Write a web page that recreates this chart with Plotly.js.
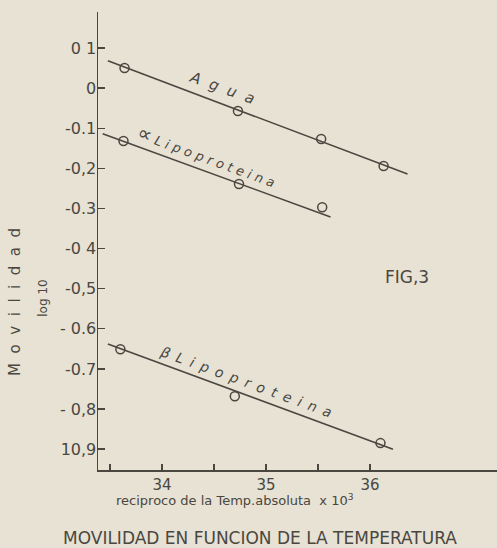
<!DOCTYPE html>
<html>
<head>
<meta charset="utf-8">
<script src="https://cdn.plot.ly/plotly-3.0.1.min.js"></script>
<style>html,body{margin:0;padding:0;background:#e7e2d4;}#chart{width:497px;height:548px;}</style>
</head>
<body>
<div id="chart"></div>
<script>
// Measured points (reciprocal of absolute temperature x 10^3, log10 mobility)
const aguaX = [33.64, 34.73, 35.53, 36.13];
const aguaY = [0.05, -0.057, -0.127, -0.194];
const alfaX = [33.63, 34.74, 35.54];
const alfaY = [-0.132, -0.239, -0.297];
const betaX = [33.60, 34.70, 36.10];
const betaY = [-0.651, -0.768, -0.885];
// Fitted straight lines (endpoints as drawn)
const aguaLineX = [33.48, 36.36];
const aguaLineY = [0.068, -0.214];
const alfaLineX = [33.43, 35.62];
const alfaLineY = [-0.114, -0.321];
const betaLineX = [33.48, 36.22];
const betaLineY = [-0.638, -0.900];
// Axis ticks
const xTickVals = [33.5, 34, 34.5, 35, 35.5, 36];
const xTickText = ["", "34", "", "35", "", "36"];
const yTickVals = [0.1, 0, -0.1, -0.2, -0.3, -0.4, -0.5, -0.6, -0.7, -0.8, -0.9];
const yTickText = ["0 1", "0", "-0.1", "-0,2", "-0.3", "-0 4", "-0,5", "- 0.6", "-0.7", "- 0,8", "10,9"];

const ink = "#4a4741";
const fnt = "DejaVu Sans, sans-serif";
const es = "\u2002";

function lineTrace(x, y) {
  return {x: x, y: y, mode: "lines", type: "scatter", line: {color: ink, width: 1.6}, hoverinfo: "skip", showlegend: false};
}
function markTrace(x, y) {
  return {x: x, y: y, mode: "markers", type: "scatter",
    marker: {symbol: "circle-open", size: 9, color: ink, line: {color: ink, width: 1.5}}, showlegend: false};
}

const data = [
  lineTrace(aguaLineX, aguaLineY), markTrace(aguaX, aguaY),
  lineTrace(alfaLineX, alfaLineY), markTrace(alfaX, alfaY),
  lineTrace(betaLineX, betaLineY), markTrace(betaX, betaY)
];

function ann(o) {
  return Object.assign({showarrow: false, xanchor: "center", yanchor: "middle"}, o);
}

const layout = {
  width: 497, height: 548,
  margin: {l: 98, r: 0, t: 12, b: 78, pad: 0},
  paper_bgcolor: "#e7e2d4",
  plot_bgcolor: "#e7e2d4",
  font: {family: fnt, color: ink, size: 14},
  showlegend: false,
  xaxis: {
    range: [33.385, 37.22], showgrid: false, zeroline: false,
    showline: true, linecolor: ink, linewidth: 1.5,
    ticks: "inside", ticklen: 6, tickwidth: 1.3, tickcolor: ink,
    tickmode: "array", tickvals: xTickVals, ticktext: xTickText,
    tickfont: {family: fnt, size: 15, color: ink}
  },
  yaxis: {
    range: [-0.952, 0.1898], showgrid: false, zeroline: false,
    showline: true, linecolor: ink, linewidth: 1.5,
    ticks: "inside", ticklen: 7, tickwidth: 1.3, tickcolor: ink,
    ticklabelstandoff: -3,
    tickmode: "array", tickvals: yTickVals, ticktext: yTickText,
    tickfont: {family: fnt, size: 16, color: ink}
  },
  annotations: [
    ann({x: 34.58, y: 0.0, xref: "x", yref: "y", text: "A  g  u  a", textangle: 20,
     font: {family: fnt, size: 15, color: ink, style: "italic"}}),
    ann({x: 34.43, y: -0.17, xref: "x", yref: "y",
     text: "<span style=\"font-size:20px\">∝</span> L i p o p r o t e i n a", textangle: 20,
     font: {family: fnt, size: 13, color: ink, style: "italic"}}),
    ann({x: 34.81, y: -0.733, xref: "x", yref: "y",
     text: "β" + es + "L" + es + "i" + es + "p" + es + "o" + es + "p" + es + "r" + es + "o" + es + "t" + es + "e" + es + "i" + es + "n" + es + "a",
     textangle: 20, font: {family: fnt, size: 14, color: ink, style: "italic"}}),
    ann({x: 0.774, y: 0.421, xref: "paper", yref: "paper", text: "FIG,3",
     font: {family: fnt, size: 17, color: ink}}),
    ann({x: 0.343, y: -0.0655, xref: "paper", yref: "paper", text: "reciproco de la Temp.absoluta  x 10<sup>3</sup>",
     font: {family: fnt, size: 13, color: ink}}),
    ann({x: 0.406, y: -0.148, xref: "paper", yref: "paper", text: "MOVILIDAD EN FUNCION DE LA TEMPERATURA",
     font: {family: fnt, size: 17, color: ink}}),
    ann({x: -0.208, y: 0.367, xref: "paper", yref: "paper", text: "M  o  v  i  l  i  d  a  d", textangle: -90,
     font: {family: fnt, size: 15, color: ink}}),
    ann({x: -0.138, y: 0.376, xref: "paper", yref: "paper", text: "log 10", textangle: -90,
     font: {family: fnt, size: 12, color: ink}})
  ]
};

Plotly.newPlot("chart", data, layout, {displayModeBar: false, staticPlot: true});
</script>
</body>
</html>
